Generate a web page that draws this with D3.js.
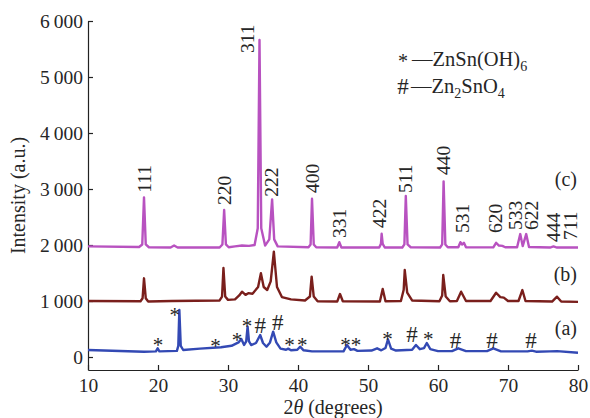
<!DOCTYPE html>
<html>
<head>
<meta charset="utf-8">
<script src="https://cdn.jsdelivr.net/npm/d3@7"></script>
<style>
  body { margin: 0; background: #fff; }
  text { font-family: "Liberation Serif", serif; fill: #262626; }
</style>
</head>
<body>
<script>
// XRD patterns: [2theta, intensity]
const seriesA = [[10,125],[18,95],[19.7,100],[19.95,155],[20.2,100],[22.7,110],[22.9,200],[23.05,840],[23.25,200],[23.6,125],[26,150],[29,175],[30.5,200],[31.5,260],[31.9,321],[32.3,214],[32.6,280],[32.8,541],[33.0,280],[33.3,214],[34.0,250],[34.6,393],[35.0,250],[35.5,184],[36.0,260],[36.45,452],[36.9,260],[37.5,150],[38.3,130],[38.6,150],[39.0,120],[39.9,130],[40.3,184],[40.8,120],[42,100],[46.5,100],[47,214],[47.5,130],[48,140],[48.5,110],[50.5,115],[51.3,155],[51.9,120],[52.5,160],[52.85,316],[53.3,150],[54,115],[56.3,130],[56.85,214],[57.4,140],[58.0,160],[58.4,250],[58.9,140],[60,105],[62,105],[62.9,155],[64,105],[67,105],[67.9,155],[69,100],[72.8,100],[73.4,113],[74,95],[76,100],[77,105],[80,77]];
const seriesB = [[10,1000],[17.5,995],[17.8,1050],[18.0,1405],[18.25,1050],[18.6,990],[22,1000],[28.8,1010],[29.15,1080],[29.35,1590],[29.6,1080],[30,1020],[31,1030],[31.6,1100],[32.0,1166],[32.5,1110],[32.9,1140],[33.5,1130],[34.3,1250],[34.7,1495],[35.1,1250],[35.6,1196],[36.1,1350],[36.55,1880],[37,1250],[37.7,1070],[39,1030],[41,1010],[41.7,1080],[41.95,1434],[42.25,1080],[42.8,995],[45.6,990],[46,1125],[46.4,995],[51.7,990],[52.1,1214],[52.5,995],[54.7,1000],[55.1,1200],[55.25,1553],[55.6,1150],[56.3,1010],[60.2,995],[60.6,1100],[60.75,1464],[61.1,1080],[61.7,995],[62.7,1000],[63.3,1166],[64,1000],[67.5,1000],[68.3,1148],[68.9,1070],[69.4,1060],[70,1000],[71.5,1000],[72.05,1196],[72.5,1000],[76.3,990],[77.0,1077],[77.6,990],[80,985]];
const seriesC = [[10,1975],[17.3,1965],[17.75,2010],[18.0,2850],[18.25,2010],[18.7,1960],[21.8,1955],[22.3,1990],[22.8,1955],[28.8,1955],[29.2,2010],[29.45,2625],[29.7,2010],[30.1,1960],[31,1975],[32,1990],[33,1985],[33.8,2000],[34.25,2300],[34.5,5660],[34.75,2300],[35.3,1990],[35.9,2100],[36.3,2815],[36.6,2100],[37.1,1975],[41.5,1960],[41.8,2010],[42.0,2827],[42.25,2010],[42.6,1960],[45.6,1955],[45.9,2050],[46.2,1955],[51.6,1955],[51.85,2020],[51.95,2200],[52.1,2020],[52.4,1955],[54.9,1955],[55.2,2010],[55.4,2875],[55.65,2010],[56.1,1960],[60.3,1955],[60.6,2010],[60.8,3137],[61.05,2010],[61.4,1960],[62.9,1960],[63.2,2050],[63.45,2010],[63.7,2040],[64,1960],[67.9,1958],[68.3,2040],[68.7,1990],[69.2,1985],[69.6,1960],[71.3,1960],[71.75,2195],[72.1,1980],[72.6,2195],[73,1965],[76,1955],[76.5,1975],[77,1955],[80,1955]];

// hkl labels for (c): [x, label bottom in intensity units, text]
const hklLabels = [[18.0,2934,'111'],[29.45,2714,'220'],[32.8,5430,'311'],[36.1,2862,'222'],[42.0,2929,'400'],[45.9,2125,'331'],[51.66,2304,'422'],[55.3,2929,'511'],[60.7,3250,'440'],[63.4,2214,'531'],[68.2,2214,'620'],[71.0,2268,'533'],[73.3,2268,'622'],[76.5,2054,'444'],[78.9,2089,'711']];

// phase markers on (a): [x, y (glyph centre), symbol]
const phaseMarks = [[20.0,304,'*'],[22.4,839,'*'],[28.2,273,'*'],[31.3,393,'*'],[32.7,630,'*'],[34.6,571,'#'],[37.1,630,'#'],[38.8,291,'*'],[40.6,291,'*'],[46.8,291,'*'],[48.3,291,'*'],[52.8,411,'*'],[56.3,423,'#'],[58.6,411,'*'],[62.5,304,'#'],[67.7,304,'#'],[73.3,304,'#']];

const xTicks = [10, 20, 30, 40, 50, 60, 70, 80];
const yTicks = [0, 1000, 2000, 3000, 4000, 5000, 6000];

const width = 590, height = 418;
const margin = { top: 21, right: 12, bottom: 48, left: 88 };

const svg = d3.select('body').append('svg')
  .attr('width', width)
  .attr('height', height);

const x = d3.scaleLinear().domain([10, 80]).range([margin.left, width - margin.right]);
const y = d3.scaleLinear().domain([-232, 6000]).range([height - margin.bottom, margin.top]);

const fmtY = v => v >= 1000 ? `${Math.floor(v / 1000)}\u2009${String(v % 1000).padStart(3, '0')}` : `${v}`;

// axes (ticks pointing inward)
const gx = svg.append('g')
  .attr('transform', `translate(0,${height - margin.bottom})`)
  .call(d3.axisBottom(x).tickValues(xTicks).tickSizeInner(-5).tickSizeOuter(0).tickPadding(8));
const gy = svg.append('g')
  .attr('transform', `translate(${margin.left},0)`)
  .call(d3.axisLeft(y).tickValues(yTicks).tickFormat(fmtY).tickSizeInner(-5).tickSizeOuter(0).tickPadding(5));
[gx, gy].forEach(g => {
  g.select('.domain').attr('stroke', '#222').attr('stroke-width', 1.2);
  g.selectAll('.tick line').attr('stroke', '#222').attr('stroke-width', 1.2);
  g.selectAll('.tick text').attr('font-family', 'Liberation Serif').attr('font-size', 19.5).attr('fill', '#262626');
});
gx.selectAll('.tick text').attr('dy', '0.72em');

svg.append('text')
  .attr('x', (x(10) + x(80)) / 2)
  .attr('y', 414)
  .attr('text-anchor', 'middle')
  .attr('font-size', 20)
  .html('2<tspan font-style="italic">θ</tspan> (degrees)');

svg.append('text')
  .attr('transform', `translate(25,${(y(6000) + y(-232)) / 2}) rotate(-90)`)
  .attr('text-anchor', 'middle')
  .attr('font-size', 20)
  .text('Intensity (a.u.)');

// curves
const line = d3.line().x(d => x(d[0])).y(d => y(d[1]));
const curves = [
  { data: seriesC, color: '#b852c0' },
  { data: seriesB, color: '#7a1f1c' },
  { data: seriesA, color: '#3349b4' }
];
svg.selectAll('path.curve')
  .data(curves)
  .enter()
  .append('path')
  .attr('class', 'curve')
  .attr('d', d => line(d.data))
  .attr('fill', 'none')
  .attr('stroke', d => d.color)
  .attr('stroke-width', 2.4)
  .attr('stroke-linejoin', 'round');

// hkl labels, rotated
svg.selectAll('text.hkl')
  .data(hklLabels)
  .enter()
  .append('text')
  .attr('class', 'hkl')
  .attr('transform', d => `translate(${x(d[0])},${y(d[1])}) rotate(-90)`)
  .attr('dy', '0.35em')
  .attr('font-size', 19.5)
  .text(d => d[2]);

// phase markers
svg.selectAll('text.mark')
  .data(phaseMarks)
  .enter()
  .append('text')
  .attr('class', 'mark')
  .attr('x', d => x(d[0]))
  .attr('y', d => y(d[1]))
  .attr('dy', d => d[2] === '*' ? '0.56em' : '0.36em')
  .attr('text-anchor', 'middle')
  .attr('font-size', d => d[2] === '*' ? 21 : 23)
  .text(d => d[2]);

// series labels
const seriesLabels = [['(c)', 186], ['(b)', 281], ['(a)', 335]];
svg.selectAll('text.slab')
  .data(seriesLabels)
  .enter()
  .append('text')
  .attr('class', 'slab')
  .attr('x', 577)
  .attr('y', d => d[1])
  .attr('text-anchor', 'end')
  .attr('font-size', 20)
  .text(d => d[0]);

// legend
const legend = svg.append('g').attr('font-size', 20.5);
legend.append('text')
  .attr('x', 403).attr('y', 68)
  .attr('text-anchor', 'middle')
  .attr('font-size', 20)
  .text('*');
legend.append('text')
  .attr('x', 412).attr('y', 66)
  .html('—ZnSn(OH)<tspan dy="5" font-size="14">6</tspan>');
legend.append('text')
  .attr('x', 403).attr('y', 94)
  .attr('text-anchor', 'middle')
  .attr('font-size', 23)
  .text('#');
legend.append('text')
  .attr('x', 411).attr('y', 93)
  .html('—Zn<tspan dy="5" font-size="14">2</tspan><tspan dy="-5">SnO</tspan><tspan dy="5" font-size="14">4</tspan>');
</script>
</body>
</html>
